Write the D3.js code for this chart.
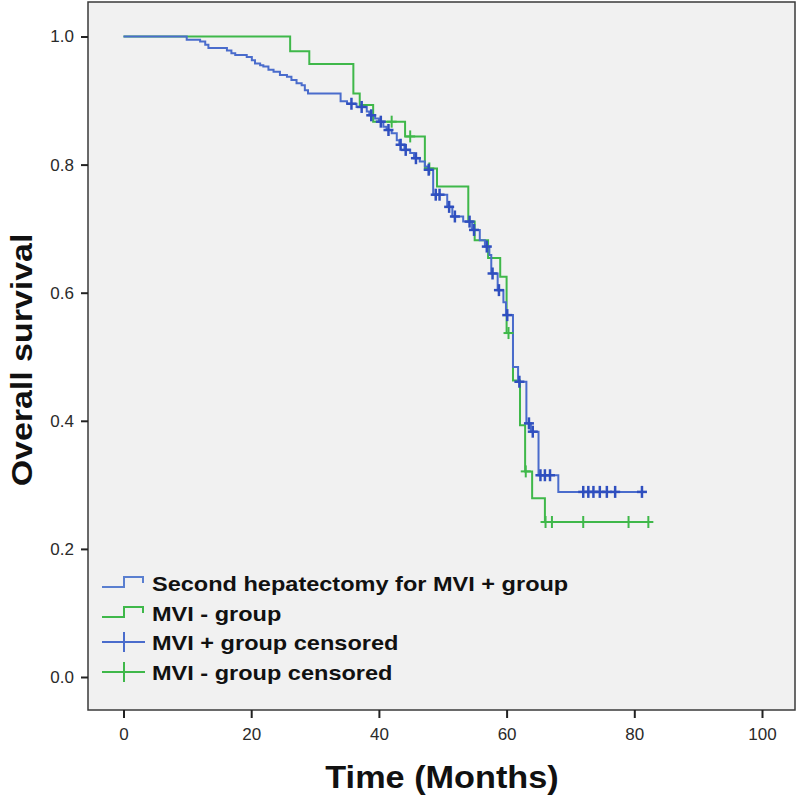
<!DOCTYPE html>
<html>
<head>
<meta charset="utf-8">
<script src="https://cdn.jsdelivr.net/npm/d3@7"></script>
<style>
  html, body { margin: 0; padding: 0; background: #ffffff; }
  svg { display: block; }
  text { font-family: "Liberation Sans", Arial, sans-serif; }
</style>
</head>
<body>
<svg id="chart" width="800" height="801"></svg>
<script>
// ---- Data ----
// MVI + group (second hepatectomy): step times (months) and survival after each step
const blueTimes = [0, 9.9, 12.0, 12.8, 13.3, 16.2, 16.9, 17.5, 19.3, 20.1, 20.6, 21.4, 21.9, 22.7, 23.5, 24.5, 25.6, 26.3, 27.1, 27.9, 28.4, 28.9,
  34.0, 35.0, 36.5, 38.1, 38.5, 39.4, 40.0, 40.7, 41.2, 42.0, 42.8, 43.2, 44.0, 44.9, 45.5, 46.4, 47.2, 47.6, 48.5,
  50.7, 51.5, 53.2, 54.6, 55.8, 56.6, 57.3, 57.6, 58.6, 59.5, 59.9, 61.0, 61.8, 63.1, 63.8, 65.0, 68.1];
const blueSurv = [1.0, 0.995, 0.992, 0.987, 0.982, 0.978, 0.974, 0.971, 0.968, 0.963, 0.958, 0.955, 0.953, 0.948, 0.945, 0.940, 0.937, 0.932, 0.927, 0.924, 0.916, 0.911,
  0.899, 0.895, 0.890, 0.883, 0.877, 0.872, 0.867, 0.859, 0.854, 0.849, 0.838, 0.831, 0.823, 0.818, 0.810, 0.805, 0.797, 0.792, 0.753,
  0.734, 0.719, 0.711, 0.698, 0.682, 0.672, 0.659, 0.630, 0.604, 0.585, 0.565, 0.484, 0.461, 0.396, 0.383, 0.315, 0.289];
const blueCensored = [35.7, 37.3, 38.8, 40.3, 41.5, 43.4, 44.2, 45.8, 47.8, 48.9, 49.5, 51.0, 51.9, 54.2, 54.9, 56.9, 57.8, 58.8,
  60.1, 62.0, 63.5, 64.1, 65.3, 66.0, 66.8, 72.0, 72.8, 73.6, 74.6, 75.7, 77.0, 81.2];

// MVI - group
const greenTimes = [0, 26.1, 29.1, 36.0, 37.0, 39.1, 44.1, 47.2, 49.1, 54.0, 55.0, 57.1, 59.0, 60.0, 61.0, 62.1, 62.9, 64.0, 66.0];
const greenSurv = [1.0, 0.977, 0.957, 0.911, 0.893, 0.867, 0.844, 0.794, 0.766, 0.711, 0.682, 0.654, 0.625, 0.537, 0.463, 0.393, 0.321, 0.279, 0.242];
const greenCensored = [42.0, 44.9, 47.9, 60.3, 63.0, 66.1, 67.1, 72.0, 79.1, 82.2];

// Axis ticks and labels
const xTicks = [0, 20, 40, 60, 80, 100];
const yTicks = [0.0, 0.2, 0.4, 0.6, 0.8, 1.0];
const legendLabels = ["Second hepatectomy for MVI + group", "MVI - group", "MVI + group censored", "MVI - group censored"];
const xTitle = "Time (Months)";
const yTitle = "Overall survival";

// ---- Drawing ----
const svg = d3.select("#chart");
const frame = { left: 88, top: 2, right: 795, bottom: 710 };
const x = d3.scaleLinear().domain([0, 100]).range([123.5, 762]);
const y = d3.scaleLinear().domain([0, 1]).range([677, 36.5]);

const blueLine = "#4a6ccc", blueMark = "#2f4fbf", green = "#3fb84a";
const stretch = 1.12; // horizontal stretch of the bold text in the reference

function widen(sel, factor) {
  sel.each(function () {
    const len = this.getComputedTextLength();
    d3.select(this).attr("textLength", len * factor).attr("lengthAdjust", "spacingAndGlyphs");
  });
}

svg.append("rect")
  .attr("x", frame.left).attr("y", frame.top)
  .attr("width", frame.right - frame.left).attr("height", frame.bottom - frame.top)
  .attr("fill", "#f1f1f1").attr("stroke", "#3a3a3a").attr("stroke-width", 1.5);

// Axes
const yAxis = d3.axisLeft(y).tickValues(yTicks).tickFormat(d3.format(".1f")).tickSize(7).tickPadding(7);
const gy = svg.append("g").attr("transform", `translate(${frame.left},0)`).call(yAxis);
const xAxis = d3.axisBottom(x).tickValues(xTicks).tickFormat(d3.format("d")).tickSize(8).tickPadding(10);
const gx = svg.append("g").attr("transform", `translate(0,${frame.bottom})`).call(xAxis);
[gx, gy].forEach(g => {
  g.select(".domain").remove();
  g.selectAll(".tick line").attr("stroke", "#222").attr("stroke-width", 2);
  g.selectAll(".tick text").attr("fill", "#2a2a2a").style("font-size", "17px")
    .style("font-family", "'Liberation Sans', Arial, sans-serif");
});

// Titles
svg.append("text").attr("x", 442).attr("y", 788).attr("text-anchor", "middle")
  .style("font-size", "32px").style("font-weight", "bold").attr("fill", "#111").text(xTitle)
  .call(widen, 1.07);
svg.append("text").attr("transform", "translate(32,360) rotate(-90)").attr("text-anchor", "middle")
  .style("font-size", "29px").style("font-weight", "bold").attr("fill", "#111").text(yTitle)
  .call(widen, 1.17);

// Survival curves
function survAt(times, surv, t) {
  const i = d3.bisectRight(times, t) - 1;
  return surv[Math.max(0, i)];
}
function curvePoints(times, surv, censored) {
  const pts = times.map((t, i) => [t, surv[i]]);
  const tEnd = Math.max(times[times.length - 1], d3.max(censored));
  pts.push([tEnd, survAt(times, surv, tEnd)]);
  return pts;
}
const stepLine = d3.line().x(d => x(d[0])).y(d => y(d[1])).curve(d3.curveStepAfter);

const plot = svg.append("g");
plot.append("path").datum(curvePoints(greenTimes, greenSurv, greenCensored))
  .attr("d", stepLine).attr("fill", "none").attr("stroke", green).attr("stroke-width", 2);
plot.append("path").datum(curvePoints(blueTimes, blueSurv, blueCensored))
  .attr("d", stepLine).attr("fill", "none").attr("stroke", blueLine).attr("stroke-width", 2);

function drawCensors(times, surv, censored, color, w) {
  const g = plot.append("g").attr("stroke", color).attr("stroke-width", w);
  censored.forEach(t => {
    const cx = x(t), cy = y(survAt(times, surv, t));
    g.append("line").attr("x1", cx).attr("x2", cx).attr("y1", cy - 6).attr("y2", cy + 6);
    g.append("line").attr("x1", cx - 5).attr("x2", cx + 5).attr("y1", cy).attr("y2", cy);
  });
}
drawCensors(greenTimes, greenSurv, greenCensored, green, 2);
drawCensors(blueTimes, blueSurv, blueCensored, blueMark, 2.5);

// Legend
const legendRowsY = [583, 613, 642, 672];
const lx0 = 102, lx1 = 145;
const legend = svg.append("g");
function stepSymbol(g, cy, color) {
  g.append("path")
    .attr("d", `M${lx0},${cy + 4}H${lx0 + 22}V${cy - 6}H${lx1 - 2}V${cy}`)
    .attr("fill", "none").attr("stroke", color).attr("stroke-width", 2);
}
function censorSymbol(g, cy, color) {
  g.append("line").attr("x1", lx0).attr("x2", lx1).attr("y1", cy).attr("y2", cy)
    .attr("stroke", color).attr("stroke-width", 2);
  g.append("line").attr("x1", lx0 + 22).attr("x2", lx0 + 22).attr("y1", cy - 10).attr("y2", cy + 10)
    .attr("stroke", color).attr("stroke-width", 2);
}
stepSymbol(legend, legendRowsY[0], "#5a7fd0");
stepSymbol(legend, legendRowsY[1], green);
censorSymbol(legend, legendRowsY[2], blueLine);
censorSymbol(legend, legendRowsY[3], green);
legendLabels.forEach((lab, i) => {
  legend.append("text").attr("x", 152).attr("y", legendRowsY[i]).attr("dy", "0.36em")
    .style("font-size", "21px").style("font-weight", "bold").attr("fill", "#111").text(lab)
    .call(widen, stretch);
});
</script>
</body>
</html>
